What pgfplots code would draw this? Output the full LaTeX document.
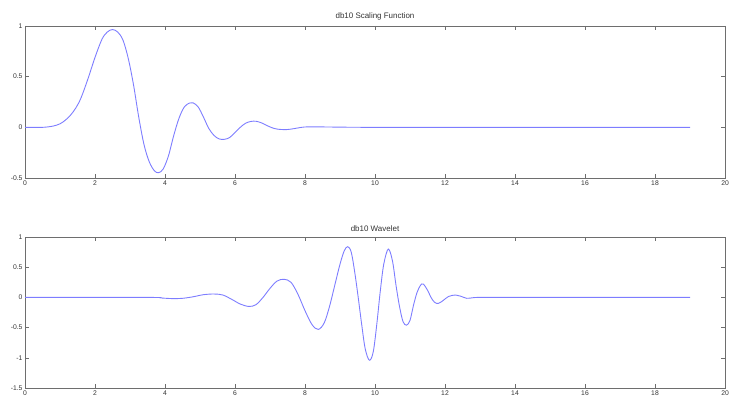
\documentclass[border=0pt]{standalone}
\usepackage{pgfplots}
\pgfplotsset{compat=1.18}
\usepackage{fontspec}
\setmainfont{Liberation Sans}
\definecolor{curve}{RGB}{125,125,255}
\definecolor{frame}{RGB}{110,110,110}
\pgfplotsset{
  mstyle/.style={
    scale only axis, width=700bp,
    xmin=0, xmax=20, xtick={0,2,...,20},
    axis line style={frame, line width=0.6pt},
    tick style={frame, line width=0.5pt},
    tick align=inside, major tick length=4bp,
    xtick pos=both, ytick pos=both,
    tick label style={font=\fontsize{6.8}{7}\selectfont, text=black!80},
    /pgf/number format/assume math mode=true,
    xticklabel style={yshift=1bp},
    yticklabel style={xshift=1bp},
    title style={font=\fontsize{8}{9}\selectfont, text=black!80, yshift=-4bp},
    anchor=south west,
  }
}
\begin{document}
\begin{tikzpicture}[x=1bp,y=1bp]
\useasboundingbox (0,0) rectangle (731,398);
\begin{axis}[mstyle, at={(25bp,220bp)}, height=152bp,
  ymin=-0.5, ymax=1, ytick={-0.5,0,0.5,1},
  title={db10 Scaling Function}]
\addplot[curve, line width=0.9pt, smooth, tension=0.55] coordinates {
(0,0) (0.5,0.0) (0.8,0.012) (1.0,0.035) (1.15,0.07) (1.3,0.12) (1.45,0.19)
(1.6,0.29) (1.8,0.48) (2.0,0.69) (2.2,0.87) (2.35,0.94) (2.5,0.965) (2.65,0.94)
(2.8,0.86) (2.95,0.68) (3.1,0.42) (3.25,0.1) (3.4,-0.17) (3.55,-0.34)
(3.7,-0.43) (3.82,-0.447) (3.95,-0.41) (4.1,-0.28) (4.25,-0.08) (4.4,0.09)
(4.55,0.2) (4.7,0.24) (4.8,0.242) (4.95,0.2) (5.1,0.1) (5.25,-0.01)
(5.4,-0.08) (5.55,-0.115) (5.7,-0.118) (5.85,-0.1) (6.0,-0.05) (6.15,0.0)
(6.3,0.04) (6.45,0.058) (6.6,0.06) (6.75,0.045) (6.9,0.02) (7.05,-0.003)
(7.2,-0.017) (7.45,-0.023) (7.7,-0.012) (7.9,0.0) (8.1,0.005) (8.5,0.004)
(9,0.002) (10,0.0) (14,0) (19,0)
};
\end{axis}
\begin{axis}[mstyle, at={(25bp,10bp)}, height=151bp,
  ymin=-1.5, ymax=1, ytick={-1.5,-1,-0.5,0,0.5,1},
  title={db10 Wavelet}]
\addplot[curve, line width=0.9pt, smooth, tension=0.55] coordinates {
(0,0) (3.5,0) (3.9,-0.01) (4.2,-0.02) (4.5,-0.015) (4.8,0.01) (5.1,0.045)
(5.4,0.056) (5.65,0.04) (5.9,-0.03) (6.15,-0.11) (6.4,-0.15) (6.6,-0.12)
(6.8,0.0) (7.0,0.15) (7.2,0.27) (7.4,0.30) (7.6,0.25) (7.8,0.05)
(8.0,-0.22) (8.2,-0.45) (8.38,-0.53) (8.55,-0.42) (8.7,-0.15) (8.85,0.2)
(9.0,0.55) (9.12,0.77) (9.22,0.84) (9.32,0.75) (9.42,0.42) (9.52,0.0)
(9.62,-0.45) (9.72,-0.85) (9.84,-1.04) (9.95,-0.9) (10.05,-0.45) (10.15,0.1)
(10.25,0.55) (10.38,0.80) (10.5,0.6) (10.6,0.2) (10.7,-0.15) (10.8,-0.4)
(10.9,-0.46) (11.0,-0.38) (11.1,-0.13) (11.2,0.08) (11.3,0.2) (11.38,0.22)
(11.5,0.12) (11.6,0.0) (11.7,-0.08) (11.81,-0.10) (11.95,-0.05) (12.1,0.015)
(12.3,0.04) (12.45,0.02) (12.62,-0.015) (12.8,-0.005) (13.0,0.0) (14,0) (19,0)
};
\end{axis}
\end{tikzpicture}
\end{document}
